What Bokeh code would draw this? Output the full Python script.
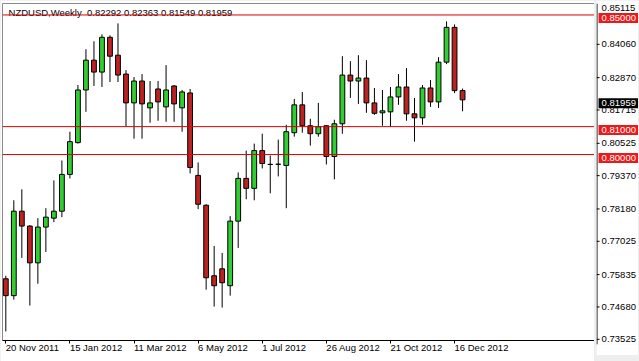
from bokeh.plotting import figure
from bokeh.models import Span, FixedTicker, ColumnDataSource, Range1d
from bokeh.layouts import row
from bokeh.core.properties import value
from bokeh.embed import file_html
from bokeh.resources import INLINE

# ---------------- data (weekly NZDUSD bars, 20 Nov 2011 .. 23 Dec 2012) ----------------
opens = [0.75551, 0.74946, 0.77971, 0.77438, 0.76121, 0.77402, 0.77722, 0.77971, 0.79288, 0.80427,
         0.82313, 0.83381, 0.82954, 0.84200, 0.83559, 0.82883, 0.81851, 0.82634, 0.81673, 0.82349,
         0.81708, 0.82456, 0.81673, 0.82207, 0.79253, 0.78185, 0.75658, 0.75907, 0.75302, 0.77615,
         0.79146, 0.78790, 0.80142, 0.79644, 0.79650, 0.79609, 0.80783, 0.81780, 0.81032, 0.80747,
         0.81032, 0.79929, 0.81103, 0.82847, 0.82634, 0.82740, 0.81851, 0.81495, 0.81530, 0.82064,
         0.82420, 0.81459, 0.81317, 0.82385, 0.81886, 0.83310, 0.84556, 0.82292]
highs = [0.75658, 0.78363, 0.78754, 0.77473, 0.77722, 0.78078, 0.79075, 0.79786, 0.80819, 0.82491,
         0.83773, 0.84057, 0.84306, 0.84271, 0.84698, 0.83025, 0.82776, 0.82883, 0.82634, 0.82634,
         0.83203, 0.82491, 0.82313, 0.82349, 0.79715, 0.78220, 0.76726, 0.76477, 0.77793, 0.79359,
         0.80142, 0.80391, 0.80747, 0.79964, 0.80534, 0.81068, 0.81993, 0.82242, 0.81281, 0.81851,
         0.81050, 0.81246, 0.83523, 0.83345, 0.83559, 0.83381, 0.82385, 0.82313, 0.82420, 0.82883,
         0.83096, 0.82029, 0.82491, 0.82669, 0.83488, 0.84769, 0.84662, 0.82363]
lows = [0.73665, 0.74804, 0.76299, 0.74590, 0.75373, 0.76512, 0.77580, 0.77758, 0.79146, 0.80391,
        0.81530, 0.82456, 0.82420, 0.82598, 0.82598, 0.80997, 0.80569, 0.80569, 0.81139, 0.81210,
        0.81174, 0.81174, 0.80819, 0.79324, 0.78043, 0.75160, 0.74555, 0.74519, 0.74946, 0.76655,
        0.78398, 0.78363, 0.79502, 0.78612, 0.79217, 0.78078, 0.80641, 0.80783, 0.80320, 0.80641,
        0.79644, 0.79110, 0.80747, 0.82029, 0.81815, 0.81495, 0.81424, 0.81032, 0.80997, 0.81780,
        0.81210, 0.80463, 0.81068, 0.81708, 0.81673, 0.83239, 0.82200, 0.81549]
closes = [0.74946, 0.77971, 0.77438, 0.76121, 0.77402, 0.77758, 0.77971, 0.79288, 0.80463, 0.82313,
          0.83381, 0.82954, 0.84200, 0.83523, 0.82847, 0.81851, 0.82634, 0.81815, 0.81851, 0.81886,
          0.82313, 0.81815, 0.82242, 0.79537, 0.78220, 0.75587, 0.75302, 0.75409, 0.77615, 0.79146,
          0.78790, 0.80142, 0.79680, 0.79650, 0.79655, 0.80819, 0.81780, 0.81032, 0.80747, 0.80997,
          0.79929, 0.81103, 0.82847, 0.82634, 0.82740, 0.81851, 0.81477, 0.81566, 0.82064, 0.82420,
          0.81459, 0.81317, 0.82385, 0.81886, 0.83310, 0.84556, 0.82290, 0.81959]

date_tick_bars = [0, 8, 16, 24, 32, 40, 48, 56]
date_tick_labels = ["20 Nov 2011", "15 Jan 2012", "11 Mar 2012", "6 May 2012",
                    "1 Jul 2012", "26 Aug 2012", "21 Oct 2012", "16 Dec 2012"]
price_ticks = [0.84060, 0.82870, 0.81715, 0.80525, 0.79370, 0.78180,
               0.77025, 0.75835, 0.74680, 0.73525]
top_price = 0.85356
top_price_label = "0.85115"
hline_levels = [0.85000, 0.81000, 0.80000]
title_text = "NZDUSD,Weekly\u00a0 0.82292 0.82363 0.81549 0.81959"

# ---------------- styling ----------------
FONT = "Liberation Sans"
FS = "9.5px"
BULL = "#33cc33"
BEAR = "#bb2222"
LINE_RED = "#dd0000"
TAG_RED = "#ea1a1a"

n = len(opens)
xs = list(range(n))
bull = [c >= o for o, c in zip(opens, closes)]
src = ColumnDataSource(dict(
    x=xs, o=opens, h=highs, l=lows, c=closes,
    top=[max(o, c) for o, c in zip(opens, closes)],
    bottom=[min(o, c) for o, c in zip(opens, closes)],
    color=[BULL if b else BEAR for b in bull],
))

# price scale: 28 px per 0.01, chosen so that the level lines land on pixel rows
Y0, Y1, Y1_STRIP = 0.733393, 0.854107, 0.855179

# ---------------- main chart ----------------
p = figure(frame_width=592, frame_height=338,
           x_range=(-0.4125, 73.5875), y_range=Range1d(Y0, Y1),
           output_backend="svg", toolbar_location=None,
           x_axis_location="below", y_axis_location=None,
           min_border_left=2, min_border_top=3, min_border_right=0, min_border_bottom=13)
p.xgrid.visible = False
p.ygrid.visible = False
p.background_fill_color = "white"
p.border_fill_color = "white"
p.outline_line_color = "#8a8a8a"

for lv in hline_levels:
    p.add_layout(Span(location=lv, dimension="width", line_color=LINE_RED, line_width=1))

p.segment(x0="x", y0="h", x1="x", y1="l", source=src, line_color="black", line_width=1)
p.vbar(x="x", width=0.6, top="top", bottom="bottom", source=src,
       fill_color="color", line_color="black", line_width=1)

xa = p.xaxis[0]
xa.ticker = FixedTicker(ticks=date_tick_bars)
xa.major_label_overrides = {b: t for b, t in zip(date_tick_bars, date_tick_labels)}
xa.major_tick_out = 3
xa.major_tick_in = 0
xa.minor_tick_line_color = None
xa.axis_line_color = "black"
xa.major_tick_line_color = "black"
xa.major_label_standoff = 4
xa.major_label_orientation = -0.0001   # left-aligned labels starting at the tick
xa.major_label_text_font = FONT
xa.major_label_text_font_size = FS
xa.major_label_text_color = "black"

# symbol / OHLC caption inside the chart
p.text(x=[0.34], y=[0.85071], text=[title_text],
       text_font=value(FONT), text_font_size=value(FS), text_color="black",
       text_align="left", text_baseline="middle")

# ---------------- price scale strip (right) ----------------
p2 = figure(frame_width=42, frame_height=341,
            x_range=(0, 42), y_range=Range1d(Y0, Y1_STRIP),
            output_backend="svg", toolbar_location=None,
            x_axis_location=None, y_axis_location=None,
            min_border_left=0, min_border_right=0, min_border_top=0, min_border_bottom=14)
p2.xgrid.visible = False
p2.ygrid.visible = False
p2.outline_line_color = None
p2.background_fill_color = "white"
p2.border_fill_color = "white"

p2.add_layout(Span(location=0.5, dimension="height", line_color="black", line_width=1))
p2.segment(x0=0, x1=3, y0=price_ticks, y1=price_ticks, line_color="black", line_width=1)
p2.text(x=5, y=price_ticks, text=[f"{v:.5f}" for v in price_ticks],
        text_font=value(FONT), text_font_size=value(FS), text_color="black",
        text_align="left", text_baseline="middle")
p2.text(x=5, y=[top_price], text=[top_price_label],
        text_font=value(FONT), text_font_size=value(FS), text_color="black",
        text_align="left", text_baseline="middle")

tag_levels = hline_levels + [closes[-1]]
tag_texts = [f"{v:.5f}" for v in tag_levels]
tag_colors = [TAG_RED, TAG_RED, TAG_RED, "black"]
p2.rect(x=22, y=tag_levels, width=40, height=10, height_units="screen",
        fill_color=tag_colors, line_color=None)
p2.text(x=5, y=tag_levels, text=tag_texts,
        text_font=value(FONT), text_font_size=value(FS), text_color="white",
        text_align="left", text_baseline="middle")

layout = row(p, p2, width=639, height=361, styles={"background-color": "#eeeeee"})

open("out.html", "w").write(file_html(layout, INLINE))
